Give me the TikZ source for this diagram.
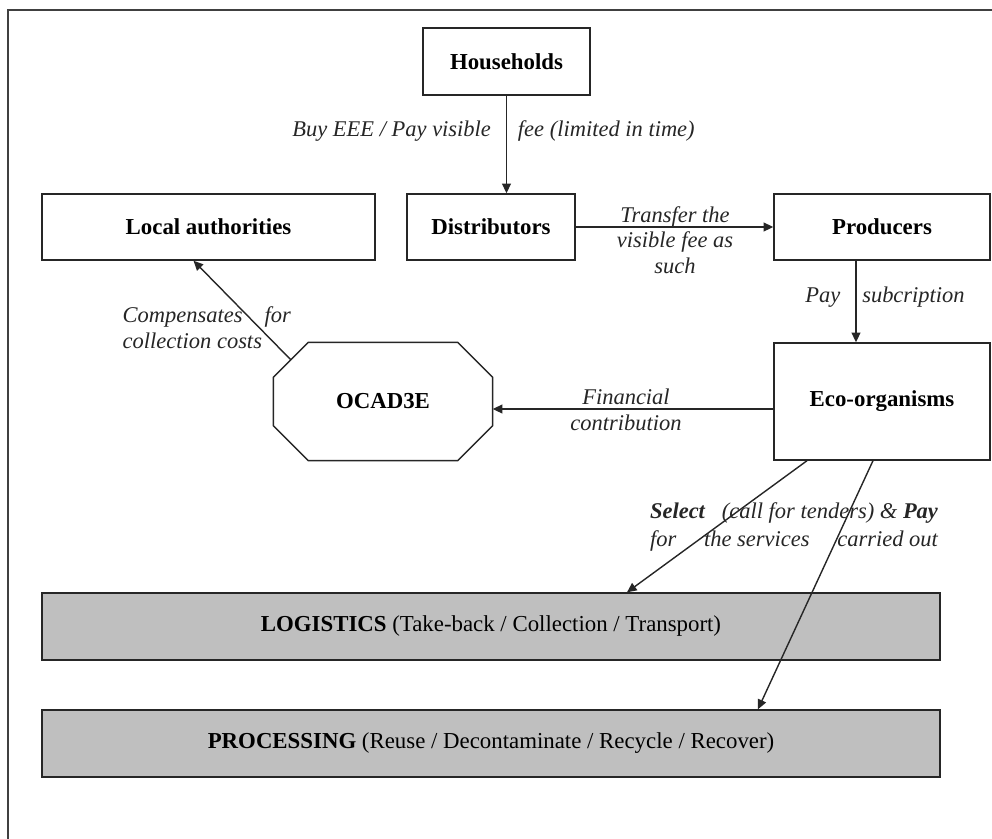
\documentclass[tikz,border=0pt]{standalone}
\usepackage{fontspec}
\setmainfont{Liberation Serif}
\usepackage{tikz}
\usetikzlibrary{arrows.meta}

\begin{document}
\begin{tikzpicture}[x=0.02cm, y=-0.02cm,
	line width=0.8pt, color=black!85,
	actor/.style={draw, text=black, font=\fontsize{13}{15}\selectfont\bfseries, inner sep=0pt},
	stage/.style={actor, fill=black!25, font=\fontsize{13}{15}\selectfont},
	note/.style={text=black!85, font=\fontsize{12.8}{14.6}\selectfont\itshape, inner sep=0pt},
	flow/.style={-{Triangle[length=5.5pt, width=5pt]}}]
	\useasboundingbox (0,0) rectangle (992,839);
	% outer frame
	\draw[black!75] (8,845) -- (8,10) -- (1000,10);
	% actors
	\node[actor, minimum width=3.34cm, minimum height=1.34cm] (hh) at (506.5,61.5) {Households};
	\node[actor, minimum width=3.36cm, minimum height=1.32cm] (dist) at (491,227) {Distributors};
	\node[actor, minimum width=6.66cm, minimum height=1.32cm] (local) at (208.5,227) {Local authorities};
	\node[actor, minimum width=4.32cm, minimum height=1.32cm] (prod) at (882,227) {Producers};
	\node[actor, minimum width=4.32cm, minimum height=2.34cm] (eco) at (882,401.5) {Eco-organisms};
	\node[actor, draw=none, minimum width=4.36cm, minimum height=2.34cm] (ocad) at (383,401.5) {OCAD3E};
	\draw ([xshift=0.7cm]ocad.north west) -- ([xshift=-0.7cm]ocad.north east)
		-- ([yshift=-0.7cm]ocad.north east) -- ([yshift=0.7cm]ocad.south east)
		-- ([xshift=-0.7cm]ocad.south east) -- ([xshift=0.7cm]ocad.south west)
		-- ([yshift=0.7cm]ocad.south west) -- ([yshift=-0.7cm]ocad.north west) -- cycle;
	\coordinate (ocadnw) at ([xshift=0.35cm, yshift=-0.35cm]ocad.north west);
	% stages
	\node[stage, minimum width=17.96cm, minimum height=1.34cm] (logi) at (491,626.5) {\textbf{LOGISTICS} (Take-back / Collection / Transport)};
	\node[stage, minimum width=17.96cm, minimum height=1.34cm] (proc) at (491,743.5) {\textbf{PROCESSING} (Reuse / Decontaminate / Recycle / Recover)};
	% flows
	\draw[flow] (hh.south) -- (hh.south |- dist.north);
	\draw[flow] (dist.east) -- (prod.west);
	\draw[flow] ([xshift=-0.52cm]prod.south) -- ([xshift=-0.52cm]eco.north);
	\draw[flow] ([yshift=-0.15cm]eco.west) -- ([yshift=-0.15cm]ocad.east);
	\draw[flow] (ocadnw) -- ([xshift=-0.3cm]local.south);
	\draw[flow] ([xshift=-1.5cm]eco.south) -- ([xshift=2.72cm]logi.north);
	\draw[flow] ([xshift=-0.18cm]eco.south) -- ([xshift=5.34cm]proc.north);
	% labels
	\node[note] (buy) at (493.5,131) {Buy EEE / Pay visible\hspace{0.54cm}fee (limited in time)};
	\node[note, align=center] (transfer) at (675,240) {Transfer the\\visible fee as\\such};
	\node[note] (pay) at (885,297) {Pay\hspace{0.44cm}subcription};
	\node[note, anchor=west, align=left, font=\fontsize{12.8}{14.8}\selectfont\itshape] (comp) at (122,328) {Compensates\hspace{0.44cm}for\\collection costs};
	\node[note, align=center, font=\fontsize{12.8}{14.8}\selectfont\itshape] (fin) at (626,410) {Financial\\contribution};
	\node[note, text width=5.76cm, align=justify, font=\fontsize{12.8}{15.8}\selectfont\itshape] (sel) at (794,527)
		{\textbf{Select}\hfill(call for tenders) \& \textbf{Pay}\\for\hfill the services\hfill carried out};
\end{tikzpicture}
\end{document}
